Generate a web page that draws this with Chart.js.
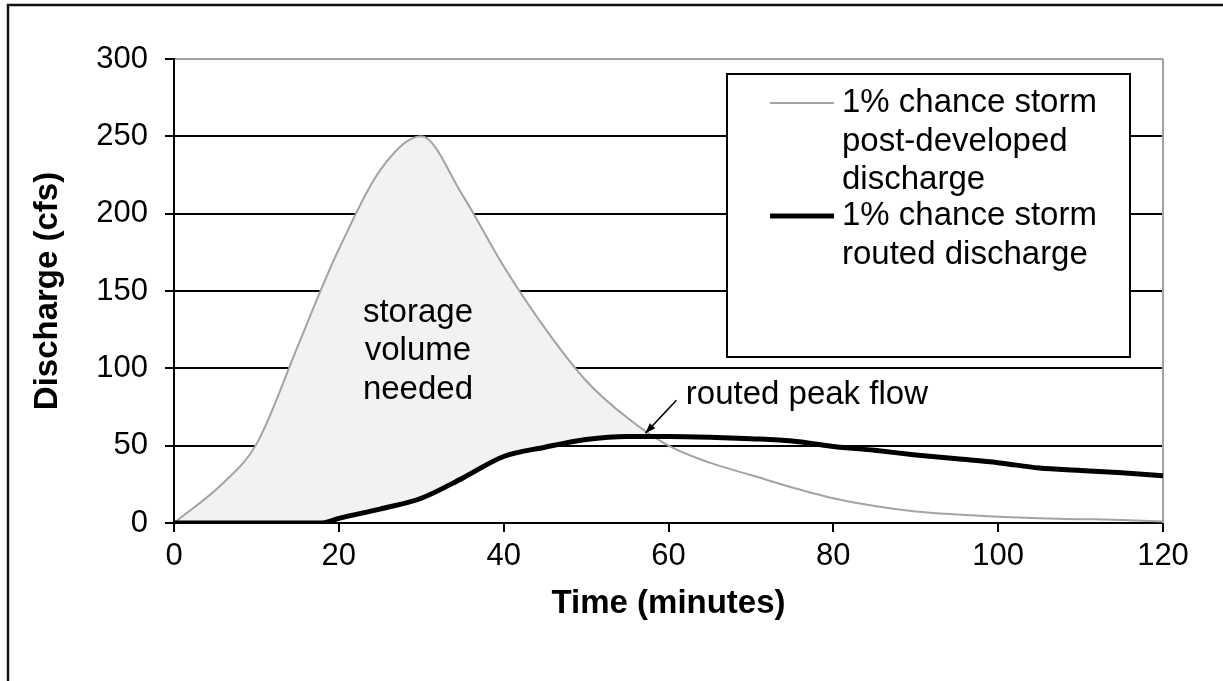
<!DOCTYPE html>
<html>
<head>
<meta charset="utf-8">
<title>Discharge hydrograph</title>
<script src="https://cdn.jsdelivr.net/npm/chart.js@4"></script>
<style>
  html, body { margin: 0; padding: 0; background: #fff; }
  #wrap { width: 1223px; height: 681px; }
</style>
</head>
<body>
<div id="wrap"><canvas id="hydroChart" width="1223" height="681"></canvas></div>
<script>
// time in minutes
const timeMin = [0, 6, 10, 15, 18, 20, 25, 30, 35, 40, 45, 50, 55, 60, 65, 70, 75, 80, 85, 90, 95, 100, 105, 110, 115, 120];
// discharge in cfs
const postDeveloped = [0, 26, 51, 114, 153, 177, 228, 250, 212, 166, 126, 92, 68, 50, 39, 31, 23, 16, 11, 7.5, 5.5, 4, 3, 2.5, 2, 1];
const routed = [0, 0, 0, 0, 0, 3, 9, 16, 29, 43, 49, 54, 56, 56, 55.5, 54.5, 53, 49.5, 47, 44, 41.5, 39, 35.5, 34, 32.5, 30.6];

const xTicks = [0, 20, 40, 60, 80, 100, 120];
const yTicks = [0, 50, 100, 150, 200, 250, 300];

const legendLines = [
    ['1% chance storm', 'post-developed', 'discharge'],
    ['1% chance storm', 'routed discharge']
];
const storageText = ['storage', 'volume', 'needed'];
const peakText = 'routed peak flow';

const FONT = 'Liberation Sans, Arial, sans-serif';

document.addEventListener("DOMContentLoaded", function() {
    const ctx = document.getElementById('hydroChart').getContext('2d');

    Chart.defaults.font.family = FONT;
    Chart.defaults.color = '#000';

    const toPoints = (vals) => vals.map((v, i) => ({ x: timeMin[i], y: v }));

    // outer frame (top and left edges only)
    const framePlugin = {
        id: 'frame',
        beforeDraw(chart) {
            const c = chart.ctx;
            c.save();
            c.fillStyle = '#fff';
            c.fillRect(0, 0, chart.width, chart.height);
            c.strokeStyle = '#111';
            c.lineWidth = 2.5;
            c.beginPath();
            c.moveTo(chart.width, 5);
            c.lineTo(8, 5);
            c.lineTo(8, chart.height);
            c.stroke();
            c.restore();
        },
        beforeDatasetsDraw(chart) {
            // grey right edge of the plot area
            const a = chart.chartArea;
            const c = chart.ctx;
            c.save();
            c.strokeStyle = '#a0a0a0';
            c.lineWidth = 2;
            c.beginPath();
            c.moveTo(a.right, a.top);
            c.lineTo(a.right, a.bottom);
            c.stroke();
            c.restore();
        }
    };

    // text labels, arrow and boxed legend
    const notesPlugin = {
        id: 'notes',
        afterDatasetsDraw(chart) {
            const c = chart.ctx;
            const xs = chart.scales.x;
            const ys = chart.scales.y;
            c.save();
            c.fillStyle = '#000';
            c.font = '33px ' + FONT;
            c.textBaseline = 'middle';

            // storage volume label
            c.textAlign = 'center';
            const sx = xs.getPixelForValue(29.6);
            const sy = ys.getPixelForValue(111);
            storageText.forEach((t, i) => c.fillText(t, sx, sy + (i - 1) * 38.5));

            // routed peak flow label with arrow
            c.textAlign = 'left';
            c.fillText(peakText, xs.getPixelForValue(62.1), ys.getPixelForValue(83));
            const tipX = xs.getPixelForValue(57.2);
            const tipY = ys.getPixelForValue(58);
            const tailX = tipX + 31;
            const tailY = tipY - 33;
            c.strokeStyle = '#000';
            c.lineWidth = 1.6;
            c.beginPath();
            c.moveTo(tailX, tailY);
            c.lineTo(tipX, tipY);
            c.stroke();
            const ang = Math.atan2(tipY - tailY, tipX - tailX);
            c.beginPath();
            c.moveTo(tipX, tipY);
            c.lineTo(tipX - 11 * Math.cos(ang - 0.35), tipY - 11 * Math.sin(ang - 0.35));
            c.lineTo(tipX - 11 * Math.cos(ang + 0.35), tipY - 11 * Math.sin(ang + 0.35));
            c.closePath();
            c.fill();

            // legend box
            const bx = 727, by = 74, bw = 403, bh = 283;
            c.fillStyle = '#fff';
            c.fillRect(bx, by, bw, bh);
            c.strokeStyle = '#000';
            c.lineWidth = 2;
            c.strokeRect(bx, by, bw, bh);

            const rowTops = [103, 216];
            chart.data.datasets.forEach((ds, i) => {
                const y0 = rowTops[i];
                c.strokeStyle = ds.borderColor;
                c.lineWidth = ds.borderWidth;
                c.beginPath();
                c.moveTo(770, y0);
                c.lineTo(834, y0);
                c.stroke();
                c.fillStyle = '#000';
                legendLines[i].forEach((t, j) => c.fillText(t, 842, y0 + j * 38.5));
            });
            c.restore();
        }
    };

    const hydroChart = new Chart(ctx, {
        type: 'line',
        data: {
            datasets: [{
                label: 'post-developed discharge',
                data: toPoints(postDeveloped),
                borderColor: '#a3a3a3',
                borderWidth: 2,
                pointRadius: 0,
                cubicInterpolationMode: 'monotone',
                fill: { target: 1, above: '#f2f2f2', below: 'rgba(0,0,0,0)' },
                order: 2
            }, {
                label: 'routed discharge',
                data: toPoints(routed),
                borderColor: '#000',
                borderWidth: 5,
                pointRadius: 0,
                cubicInterpolationMode: 'monotone',
                fill: false,
                order: 1
            }]
        },
        options: {
            responsive: false,
            animation: false,
            layout: { padding: { left: 0, top: 59, right: 60, bottom: 0 } },
            plugins: {
                legend: { display: false },
                tooltip: { enabled: false }
            },
            scales: {
                x: {
                    type: 'linear',
                    min: 0,
                    max: 120,
                    afterBuildTicks: (s) => { s.ticks = xTicks.map(v => ({ value: v })); },
                    afterFit: (s) => { s.height = 158; },
                    ticks: { font: { size: 31 }, color: '#000', padding: 6, maxRotation: 0 },
                    grid: { drawOnChartArea: false, tickColor: '#000', tickLength: 9, lineWidth: 2 },
                    border: { color: '#000', width: 2 },
                    title: {
                        display: true,
                        text: 'Time (minutes)',
                        font: { size: 33, weight: 'bold' },
                        color: '#000',
                        padding: { top: 0, bottom: 57 }
                    }
                },
                y: {
                    min: 0,
                    max: 300,
                    afterBuildTicks: (s) => { s.ticks = yTicks.map(v => ({ value: v })); },
                    afterFit: (s) => { s.width = 174; },
                    ticks: { font: { size: 31 }, color: '#000', padding: 17 },
                    grid: {
                        color: (c) => c.tick && c.tick.value === 300 ? '#a0a0a0' : '#000',
                        tickColor: '#000',
                        tickLength: 9,
                        lineWidth: 2
                    },
                    border: { color: '#000', width: 2 },
                    title: {
                        display: true,
                        text: 'Discharge (cfs)',
                        font: { size: 33, weight: 'bold' },
                        color: '#000',
                        padding: { top: 28, bottom: 0 }
                    }
                }
            }
        },
        plugins: [framePlugin, notesPlugin]
    });
});
</script>
</body>
</html>
